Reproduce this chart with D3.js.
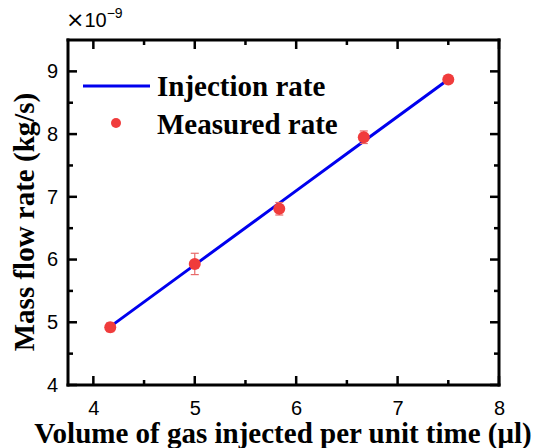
<!DOCTYPE html>
<html><head><meta charset="utf-8">
<script src="https://cdn.jsdelivr.net/npm/d3@7"></script>
<style>body{margin:0;background:#fff}</style>
</head><body>
<svg id="c" width="539" height="448"></svg>
<script>
const volumes = [4.1667, 5.0, 5.8333, 6.6667, 7.5];
const measured = [4.92, 5.93, 6.81, 7.95, 8.87];
const errors = [0.07, 0.17, 0.1, 0.1, 0.02];
const injection = [4.93, 5.915, 6.90, 7.885, 8.87];
const xTicks = [4, 5, 6, 7, 8];
const yTicks = [4, 5, 6, 7, 8, 9];
const xMinorTicks = [4.5, 5.5, 6.5, 7.5];
const yMinorTicks = [4.5, 5.5, 6.5, 7.5, 8.5];

const svg = d3.select("#c");
const L = 68, R = 499, T = 40, B = 385;
const x = d3.scaleLinear().domain([3.75, 8]).range([L, R]);
const y = d3.scaleLinear().domain([4, 9.5]).range([B, T]);

const tickFont = "'Liberation Sans', Arial, sans-serif";
const serif = "'Liberation Serif', 'Times New Roman', serif";

svg.append("g").attr("transform", `translate(0,${B})`)
  .call(d3.axisBottom(x).tickValues(xTicks).tickSize(0).tickPadding(16).tickFormat(d3.format("d")));
svg.append("g").attr("transform", `translate(${L},0)`)
  .call(d3.axisLeft(y).tickValues(yTicks).tickSize(0).tickPadding(10).tickFormat(d3.format("d")));
svg.selectAll(".domain").remove();
svg.selectAll(".tick text").attr("font-family", tickFont).attr("font-size", 20).attr("fill", "#000");

// frame: rectangles as filled bars
const fr = svg.append("g").attr("fill", "#000");
fr.append("rect").attr("x", L - 1.5).attr("y", T - 1.5).attr("width", R - L + 3).attr("height", 3);
fr.append("rect").attr("x", L - 1.5).attr("y", B - 1.5).attr("width", R - L + 3).attr("height", 3);
fr.append("rect").attr("x", L - 1.5).attr("y", T - 1.5).attr("width", 3).attr("height", B - T + 3);
fr.append("rect").attr("x", R - 1.5).attr("y", T - 1.5).attr("width", 3).attr("height", B - T + 3);

// tick marks (inside) as small filled rects
function vt(xp, y0, len) { fr.append("rect").attr("x", xp - 1.25).attr("y", len > 0 ? y0 : y0 + len).attr("width", 2.5).attr("height", Math.abs(len)); }
function ht(x0, yp, len) { fr.append("rect").attr("y", yp - 1.25).attr("x", len > 0 ? x0 : x0 + len).attr("height", 2.5).attr("width", Math.abs(len)); }
xTicks.forEach(v => { vt(x(v), B, -9); vt(x(v), T, 9); });
xMinorTicks.forEach(v => { vt(x(v), B, -5); vt(x(v), T, 5); });
yTicks.forEach(v => { ht(L, y(v), 9); ht(R, y(v), -9); });
yMinorTicks.forEach(v => { ht(L, y(v), 5); ht(R, y(v), -5); });

// injection line
svg.append("path").datum(volumes.map((v, i) => [v, injection[i]]))
  .attr("d", d3.line().x(d => x(d[0])).y(d => y(d[1])))
  .attr("fill", "none").attr("stroke", "#0000ee").attr("stroke-width", 3);

// error bars
const eb = svg.append("g").attr("stroke", "#e86a6a").attr("stroke-width", 1.2);
volumes.forEach((v, i) => {
  const cx = x(v), y1 = y(measured[i] + errors[i]), y2 = y(measured[i] - errors[i]);
  eb.append("line").attr("x1", cx).attr("x2", cx).attr("y1", y1).attr("y2", y2);
  eb.append("line").attr("x1", cx - 4).attr("x2", cx + 4).attr("y1", y1).attr("y2", y1);
  eb.append("line").attr("x1", cx - 4).attr("x2", cx + 4).attr("y1", y2).attr("y2", y2);
});

// points
svg.append("g").selectAll("circle").data(volumes).join("circle")
  .attr("cx", d => x(d)).attr("cy", (d, i) => y(measured[i])).attr("r", 6)
  .attr("fill", "#f03c3c");

// legend
svg.append("line").attr("x1", 83).attr("x2", 150).attr("y1", 86).attr("y2", 86)
  .attr("stroke", "#0000ee").attr("stroke-width", 3);
svg.append("text").attr("x", 157).attr("y", 96).text("Injection rate")
  .attr("font-family", serif).attr("font-weight", "bold").attr("font-size", 29);
svg.append("circle").attr("cx", 116).attr("cy", 123).attr("r", 5).attr("fill", "#f03c3c");
svg.append("text").attr("x", 157).attr("y", 134).text("Measured rate")
  .attr("font-family", serif).attr("font-weight", "bold").attr("font-size", 29);

// exponent label
const ex = svg.append("text").attr("x", 66).attr("y", 27).attr("font-family", tickFont).attr("font-size", 20);
ex.append("tspan").attr("font-family", "'DejaVu Sans', sans-serif").attr("font-size", 22).text("×");
ex.append("tspan").text("10");
ex.append("tspan").attr("dy", -9).attr("font-size", 14).text("−9");

// axis titles
svg.append("text").attr("transform", "translate(34,222) rotate(-90)").attr("text-anchor", "middle")
  .attr("font-family", serif).attr("font-weight", "bold").attr("font-size", 29)
  .text("Mass flow rate  (kg/s)");
svg.append("text").attr("x", 283).attr("y", 443).attr("text-anchor", "middle")
  .attr("font-family", serif).attr("font-weight", "bold").attr("font-size", 29)
  .text("Volume of gas injected per unit time (μl)");
</script>
</body></html>
